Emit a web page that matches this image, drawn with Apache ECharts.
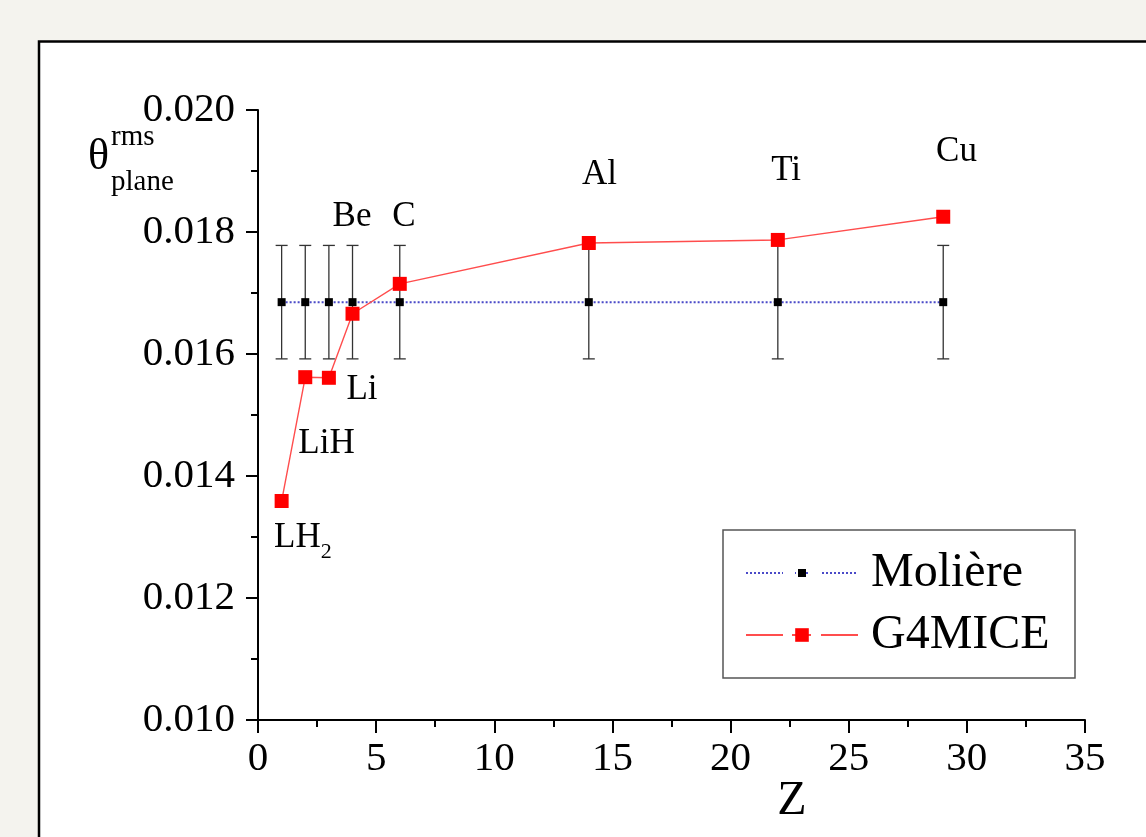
<!DOCTYPE html>
<html>
<head>
<meta charset="utf-8">
<script src="https://cdn.jsdelivr.net/npm/echarts@6/dist/echarts.min.js"></script>
<style>
html,body{margin:0;padding:0;background:#f4f3ee;}
#c{width:1146px;height:837px;}
</style>
</head>
<body>
<div id="c"></div>
<script>
// ---- data ----
const zValues = [1, 2, 3, 4, 6, 14, 22, 29];
const moliere = [0.01685, 0.01685, 0.01685, 0.01685, 0.01685, 0.01685, 0.01685, 0.01685];
const moliereLow = [0.01592, 0.01592, 0.01592, 0.01592, 0.01592, 0.01592, 0.01592, 0.01592];
const moliereHigh = [0.01778, 0.01778, 0.01778, 0.01778, 0.01778, 0.01778, 0.01778, 0.01778];
const g4mice = [0.01359, 0.01562, 0.01561, 0.01666, 0.01715, 0.01782, 0.01787, 0.01825];
const materialText = ['{m|LH}{s|2}', 'LiH', 'Li', 'Be', 'C', 'Al', 'Ti', 'Cu'];
const materialLabelZ = [1.90, 2.90, 4.40, 3.98, 6.18, 14.45, 22.35, 29.56];
const materialLabelY = [0.012984, 0.014533, 0.015410, 0.018250, 0.018250, 0.018940, 0.019000, 0.019320];
const seriesNames = ['Molière', 'G4MICE'];
const xMin = 0, xMax = 35, xStep = 5;
const yMin = 0.010, yMax = 0.020, yStep = 0.002;

const FONT = '"Liberation Serif", "Times New Roman", serif';
const chart = echarts.init(document.getElementById('c'), null, {renderer: 'canvas'});

function gap(x, y, w, h) {
  return {type: 'rect', z: 10, silent: true, shape: {x: x, y: y, width: w, height: h},
    style: {fill: '#fff'}};
}

const option = {
  backgroundColor: '#f4f3ee',
  animation: false,
  grid: {left: 258, right: 61, top: 110, bottom: 117, containLabel: false},
  xAxis: {
    type: 'value', min: xMin, max: xMax, interval: xStep,
    axisLine: {show: true, onZero: false, lineStyle: {color: '#000', width: 2}},
    axisTick: {show: true, inside: false, length: 13, lineStyle: {color: '#000', width: 2}},
    minorTick: {show: true, splitNumber: 2, length: 7, lineStyle: {color: '#000', width: 2}},
    splitLine: {show: false},
    axisLabel: {color: '#000', fontFamily: FONT, fontSize: 41, margin: 19}
  },
  yAxis: {
    type: 'value', min: yMin, max: yMax, interval: yStep,
    axisLine: {show: true, onZero: false, lineStyle: {color: '#000', width: 2}},
    axisTick: {show: true, inside: false, length: 12, lineStyle: {color: '#000', width: 2}},
    minorTick: {show: true, splitNumber: 2, length: 7, lineStyle: {color: '#000', width: 2}},
    splitLine: {show: false},
    axisLabel: {color: '#000', fontFamily: FONT, fontSize: 41, margin: 23,
      formatter: v => v.toFixed(3)}
  },
  legend: [
    {
      data: [seriesNames[0]], left: 745, top: 549, orient: 'vertical', padding: 0,
      itemWidth: 112, itemHeight: 10, selectedMode: false, z: 5,
      textStyle: {color: '#000', fontFamily: FONT, fontSize: 48, lineHeight: 48, padding: [0, 0, 0, 8]}
    },
    {
      data: [seriesNames[1]], left: 745, top: 611, orient: 'vertical', padding: 0,
      itemWidth: 112, itemHeight: 17, selectedMode: false, z: 5,
      textStyle: {color: '#000', fontFamily: FONT, fontSize: 48, lineHeight: 48, padding: [0, 0, 0, 8]}
    }
  ],
  graphic: [
    {type: 'rect', z: -10, silent: true,
      shape: {x: 39, y: 41.5, width: 1200, height: 900},
      style: {fill: '#fff', stroke: '#000', lineWidth: 2.5}},
    {type: 'rect', z: 1, silent: true,
      shape: {x: 723, y: 530, width: 352, height: 148},
      style: {fill: '#fff', stroke: '#555', lineWidth: 1.5}},
    gap(783, 570, 12, 6), gap(808, 570, 12, 6),
    gap(783, 633, 9, 5), gap(811, 633, 10, 5),
    {type: 'text', z: 5, silent: true,
      style: {text: 'θ', x: 88, y: 157.5, font: '44px ' + FONT, fill: '#000',
        align: 'left', verticalAlign: 'middle', textAlign: 'left', textVerticalAlign: 'middle'}},
    {type: 'text', z: 5, silent: true,
      style: {text: 'rms', x: 111, y: 137, font: '29px ' + FONT, fill: '#000',
        align: 'left', verticalAlign: 'middle', textAlign: 'left', textVerticalAlign: 'middle'}},
    {type: 'text', z: 5, silent: true,
      style: {text: 'plane', x: 111, y: 182, font: '29px ' + FONT, fill: '#000',
        align: 'left', verticalAlign: 'middle', textAlign: 'left', textVerticalAlign: 'middle'}},
    {type: 'text', z: 5, silent: true,
      style: {text: 'Z', x: 792, y: 801, font: '48px ' + FONT, fill: '#000',
        align: 'center', verticalAlign: 'middle', textAlign: 'center', textVerticalAlign: 'middle'}}
  ],
  series: [
    {
      name: 'errorbars', type: 'custom', z: 2, silent: true,
      data: zValues.map((z, i) => [z, moliereLow[i], moliereHigh[i]]),
      encode: {x: 0, y: [1, 2]},
      renderItem: function (params, api) {
        const x = api.value(0);
        const lo = api.coord([x, api.value(1)]);
        const hi = api.coord([x, api.value(2)]);
        const w = 6;
        const st = {stroke: '#333', lineWidth: 1.3};
        return {type: 'group', children: [
          {type: 'line', shape: {x1: hi[0], y1: hi[1], x2: lo[0], y2: lo[1]}, style: st},
          {type: 'line', shape: {x1: hi[0] - w, y1: hi[1], x2: hi[0] + w, y2: hi[1]}, style: st},
          {type: 'line', shape: {x1: lo[0] - w, y1: lo[1], x2: lo[0] + w, y2: lo[1]}, style: st}
        ]};
      }
    },
    {
      name: seriesNames[0], type: 'line', z: 3,
      data: zValues.map((z, i) => [z, moliere[i]]),
      symbol: 'rect', symbolSize: 8,
      itemStyle: {color: '#000'},
      lineStyle: {color: '#4a4ac8', type: 'dotted', width: 2}
    },
    {
      name: seriesNames[1], type: 'line', z: 4,
      data: zValues.map((z, i) => [z, g4mice[i]]),
      symbol: 'rect', symbolSize: 14,
      itemStyle: {color: '#ff0000'},
      lineStyle: {color: '#ff4d4d', width: 1.4}
    },
    {
      name: 'materials', type: 'scatter', z: 6, silent: true,
      data: materialLabelZ.map((z, i) => [z, materialLabelY[i], materialText[i]]),
      symbol: 'rect', symbolSize: 1,
      itemStyle: {color: '#ffffff', opacity: 1},
      label: {
        show: true, position: 'inside', color: '#000', opacity: 1,
        textBorderWidth: 0, textShadowBlur: 0,
        fontFamily: FONT, fontSize: 35,
        formatter: p => p.data[2],
        rich: {
          m: {fontFamily: FONT, fontSize: 35, color: '#000', lineHeight: 35, textBorderWidth: 0},
          s: {fontFamily: FONT, fontSize: 22, color: '#000', lineHeight: 22, padding: [28, 0, 0, 0], textBorderWidth: 0}
        }
      },
      labelLayout: {hideOverlap: false}
    }
  ]
};
chart.setOption(option);
</script>
</body>
</html>
